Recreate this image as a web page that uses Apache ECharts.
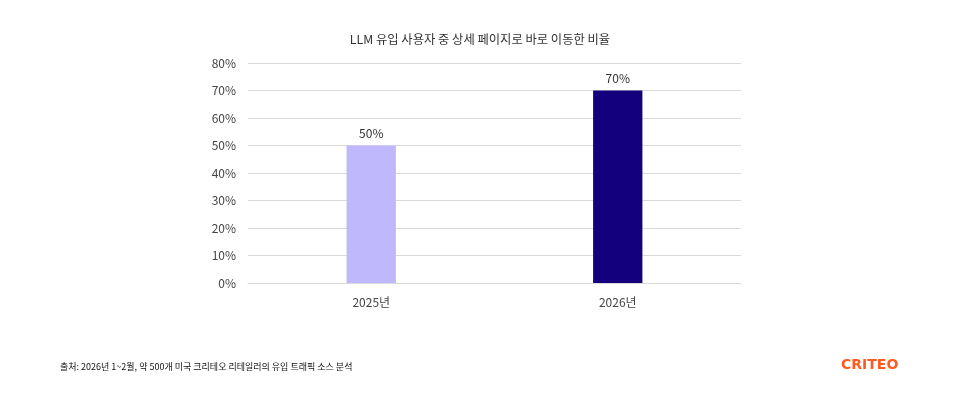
<!DOCTYPE html>
<html><head><meta charset="utf-8">
<script src="https://cdn.jsdelivr.net/npm/echarts@6/dist/echarts.min.js"></script>
<style>html,body{margin:0;padding:0;background:#fff}#c{width:960px;height:395px}</style>
</head><body><div id="c"></div>
<script>
const categories = ['2025년', '2026년'];
const values = [50, 70];
const barColors = ['#c0b8fd', '#13007c'];
const yTicks = [0, 10, 20, 30, 40, 50, 60, 70, 80];
const FONT = '"Noto Sans CJK KR", "Noto Sans", sans-serif';
const chart = echarts.init(document.getElementById('c'), null, {renderer: 'canvas'});
chart.setOption({
  animation: false,
  backgroundColor: '#fff',
  title: [{
    text: 'LLM 유입 사용자 중 상세 페이지로 바로 이동한 비율',
    left: 'center', top: 33, padding: 0,
    textStyle: {fontFamily: FONT, fontSize: 12.3, fontWeight: 'normal', color: '#333'}
  }, {
    text: '출처: 2026년 1~2월, 약 500개 미국 크리테오 리테일러의 유입 트래픽 소스 분석',
    left: 60, top: 362, padding: 0,
    textStyle: {fontFamily: FONT, fontSize: 9, fontWeight: 'normal', color: '#111'}
  }, {
    text: 'CRITEO',
    left: 841, top: 358, padding: 0,
    textStyle: {fontFamily: '"DejaVu Sans", sans-serif', fontSize: 14, fontWeight: 'bold', color: '#ff5a1f'}
  }],
  grid: {left: 248, right: 219, top: 63, bottom: 112, containLabel: false},
  xAxis: {
    type: 'category', data: categories,
    axisLine: {lineStyle: {color: '#d9d9d9'}},
    axisTick: {show: false},
    axisLabel: {fontFamily: FONT, fontSize: 12, color: '#444', margin: 13}
  },
  yAxis: {
    type: 'value', min: yTicks[0], max: yTicks[yTicks.length - 1], interval: 10,
    axisLine: {show: false}, axisTick: {show: false},
    splitLine: {lineStyle: {color: '#d9d9d9'}},
    axisLabel: {fontFamily: FONT, fontSize: 12, color: '#444', margin: 12, formatter: v => v + '%'}
  },
  series: [{
    type: 'bar', barWidth: '20%',
    data: values.map((v, i) => ({value: v, itemStyle: {color: barColors[i]}})),
    label: {show: true, position: 'top', distance: 6, fontFamily: FONT, fontSize: 12, color: '#333', formatter: p => p.value + '%'}
  }]
});
</script></body></html>
